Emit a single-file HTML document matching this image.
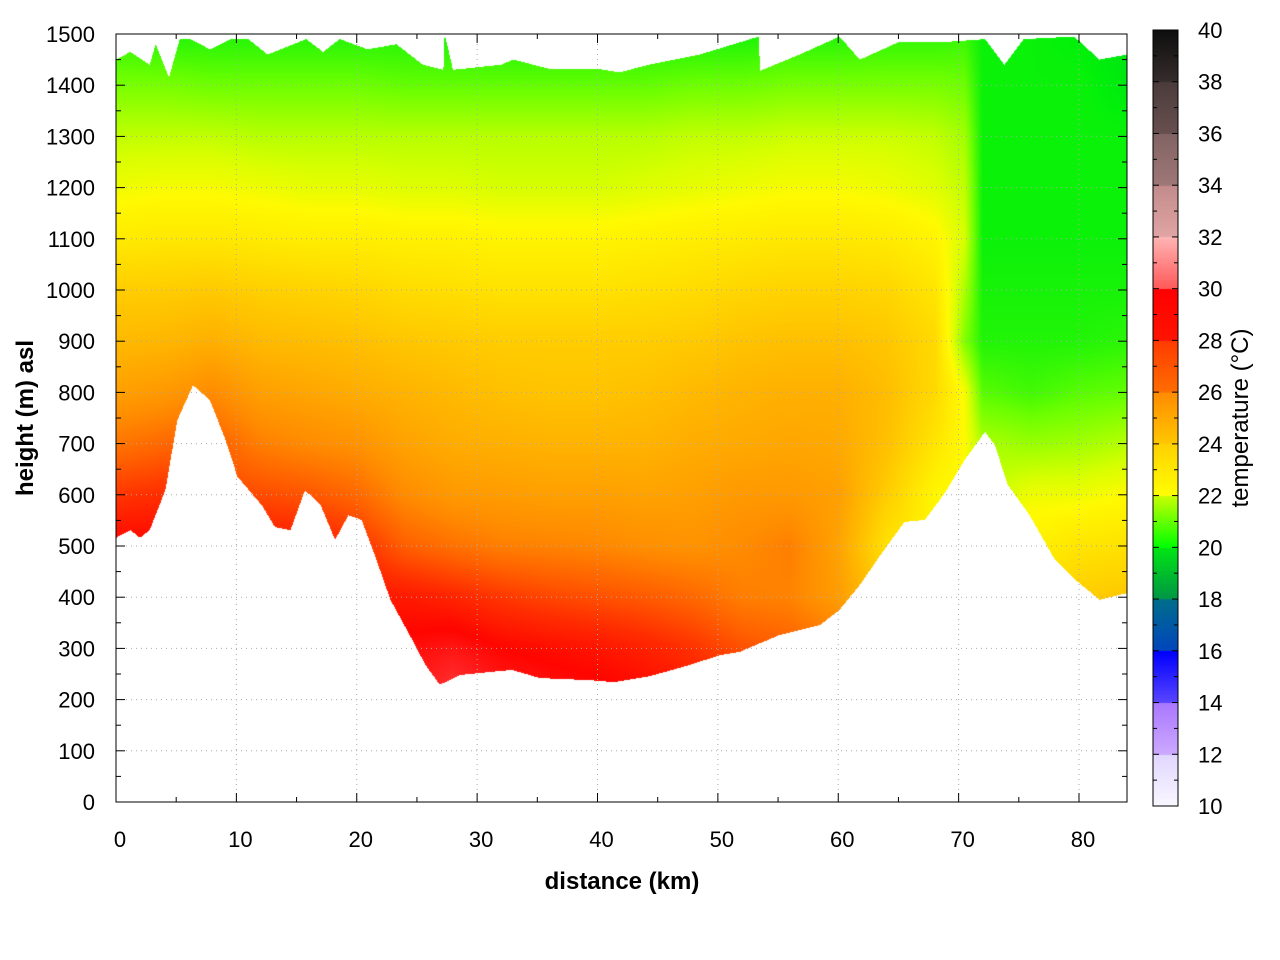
<!DOCTYPE html>
<html><head><meta charset="utf-8"><style>
body{margin:0;background:#fff;width:1280px;height:960px;overflow:hidden;font-family:"Liberation Sans",sans-serif}
#wrap{position:relative;width:1280px;height:960px}
canvas,svg{position:absolute;left:0;top:0}
</style></head><body><div id="wrap">
<canvas id="cv" width="1280" height="960"></canvas>
<svg id="sv" width="1280" height="960"></svg>
</div>
<script>
// ---- data ----
const distKm=[0,4,8,12,16,20,24,28,32,36,40,44,48,52,56,60,64,68,70.5,72,76,80,84];
const heightsM=[200,300,400,500,600,700,800,900,1000,1100,1200,1300,1400,1500];
// temperature columns (bottom 200m -> top 1500m) per distance
const temps=[
[29,29,29,29,27.8,26.5,25.4,24.6,24,23,22.3,21.8,21.1,20.4],
[29,29,29,29,28,26.8,25.6,24.7,24,23.1,22.4,21.8,21.1,20.3],
[28,28,28,28,27.5,27,26,24.9,24.1,23.1,22.4,21.8,21,20.3],
[28.5,28.5,28.5,28.5,27.4,26.3,25.4,24.6,23.9,23,22.3,21.7,21,20.3],
[28.5,28.5,28.5,28.5,27.2,26,25.2,24.5,23.8,22.9,22.2,21.7,21,20.3],
[28.5,28.5,28.5,28,26.8,25.8,25,24.4,23.7,22.9,22.2,21.7,21,20.3],
[29.5,29.2,28.5,27,26,25.3,24.8,24.2,23.5,22.8,22.1,21.7,20.9,20.3],
[30.5,29.5,28.2,26.6,25.6,25,24.6,24.1,23.4,22.8,22.1,21.7,20.9,20.2],
[29.8,29,27.8,26.3,25.5,24.9,24.4,24,23.3,22.7,22,21.7,20.9,20.2],
[29.5,28.8,27.5,26.2,25.4,24.8,24.3,24,23.3,22.7,22,21.7,20.9,20.2],
[29.3,28.6,27.3,26.1,25.4,24.8,24.3,24,23.3,22.7,22,21.7,20.9,20.2],
[29,28.3,27.1,25.9,25.3,24.8,24.4,24,23.4,22.8,22.1,21.7,20.9,20.2],
[28.7,27.9,26.8,25.8,25.4,25,24.6,24.1,23.5,22.9,22.2,21.8,21,20.2],
[28,27.3,26.3,26,25.6,25.1,24.8,24.3,23.7,23,22.3,21.8,21,20.2],
[27.5,27,26.2,26.3,25.6,25.2,24.9,24.4,23.8,23.1,22.4,21.9,21.1,20.3],
[27,26.5,25.5,25.3,25.4,25.1,24.9,24.4,23.8,23.1,22.4,21.9,21.1,20.3],
[24.5,24.2,24,23.3,24,24.4,24.5,24.2,23.7,23,22.3,21.9,21.1,20.4],
[23,23,23,22.7,22.6,23.2,23.6,23.6,23.2,22.7,22.1,21.8,21.1,20.4],
[22.6,22.6,22.6,22.5,22.4,22.5,22.4,21.2,21.6,22,21.8,21.5,21,20.5],
[22.5,22.3,22.2,22,21.8,21.6,20.8,20.3,20.2,20.1,20.1,20.1,20.1,20.1],
[24,23.6,23.3,22.8,22.3,21.4,20.6,20.3,20.2,20.1,20.1,20.1,20.1,20.1],
[24.3,24,24,23.2,22.3,21.5,20.8,20.3,20.2,20.1,20.1,20.1,20.1,20],
[24.5,24.3,24.2,23.3,22.5,21.7,20.9,20.4,20.2,20.1,20.1,20.1,19.9,19.8]];
// terrain profile (km, m)
const terrainKm=[0,1.2,2,2.8,4.1,5.1,6.4,7.8,9.1,10.1,12.1,13.2,14.5,15.7,17,18.2,19.3,20.4,21.5,22.8,24.4,25.7,26.9,28.6,30.2,32.9,35.2,39.4,41.4,44.4,47.7,50.2,51.8,55.1,58.5,60.1,61.8,63.5,65.5,67.2,68.9,70.5,72.2,73,74.1,75.9,78,79.7,81.7,84];
const terrainM=[516,531,516,531,609,746,814,785,707,635,580,537,531,609,580,512,560,551,482,395,326,268,229,248,252,258,242,238,234,246,268,287,293,326,346,375,424,482,547,551,605,668,723,697,619,560,473,434,395,408];
// top of data (km, m)
const topKm=[0,1.2,2.8,3.3,4.4,5.3,6.2,7.8,9.5,11,12.6,14.2,15.8,17.2,18.6,20.9,23.3,25.5,27.2,27.3,28,32,33,36,40,41.8,44.3,48.5,53.4,53.5,56.8,60.1,61.8,65.1,69.2,72.2,73.8,75.4,79.6,81.7,84];
const topM=[1450,1465,1440,1480,1415,1490,1490,1470,1490,1490,1460,1475,1490,1465,1490,1470,1480,1440,1430,1500,1430,1440,1450,1432,1432,1425,1440,1460,1495,1428,1460,1495,1450,1485,1485,1490,1440,1490,1495,1450,1460];
// colour bar scale (stepped palette)
const cTemps=[10,12,12.01,14,14.01,16,16.01,18,18.01,20,20.01,22,22.01,24,24.01,26,26.01,28,28.01,30,30.01,32,32.01,34,34.01,36,36.01,38,38.01,40];
const cRGB=[[250,248,255],[225,215,255],[205,170,255],[170,120,255],[90,70,255],[0,0,255],[0,70,190],[0,110,140],[0,150,70],[0,230,20],[0,255,0],[200,255,0],[255,255,0],[255,210,0],[255,200,0],[255,140,0],[255,110,0],[255,60,0],[255,20,0],[255,0,0],[255,90,90],[255,180,180],[225,165,165],[195,140,140],[160,120,120],[130,100,100],[105,80,80],[75,60,60],[55,45,45],[15,15,15]];
// smooth palette used in the field
const pTemps=[18,19,20,21,22,22.5,24,26,27,28,29,30,31,32];
const pRGB=[[0,110,140],[0,170,60],[0,240,10],[110,255,0],[215,255,0],[255,250,0],[255,205,0],[255,140,0],[255,95,0],[255,45,0],[255,5,0],[255,40,40],[255,110,110],[255,170,170]];
const cbTicks=[10,12,14,16,18,20,22,24,26,28,30,32,34,36,38,40];
const xTicks=[0,10,20,30,40,50,60,70,80];
const yTicks=[0,100,200,300,400,500,600,700,800,900,1000,1100,1200,1300,1400,1500];

// ---- scales ----
const X0=116,X1=1127,Y0=802,Y1=34;
const xs=k=>X0+k*(1079-116)/80;
const ys=m=>Y0-m*(Y0-Y1)/1500;
const xinv=p=>(p-X0)*80/(1079-116);
const yinv=p=>(Y0-p)*1500/(Y0-Y1);
function interp(xa,ya,x){if(x<=xa[0])return ya[0];for(let i=1;i<xa.length;i++){if(x<=xa[i]){const t=(x-xa[i-1])/(xa[i]-xa[i-1]);return ya[i-1]+t*(ya[i]-ya[i-1]);}}return ya[ya.length-1];}
function pal(T,C,t){t=Math.max(T[0],Math.min(T[T.length-1],t));for(let i=1;i<T.length;i++){if(t<=T[i]){const f=(t-T[i-1])/(T[i]-T[i-1]);const a=C[i-1],b=C[i];return [a[0]+f*(b[0]-a[0]),a[1]+f*(b[1]-a[1]),a[2]+f*(b[2]-a[2])];}}return C[C.length-1];}
const color=t=>pal(cTemps,cRGB,t);
const fieldColor=t=>pal(pTemps,pRGB,t);
function tempAt(k,m){let i=0;while(i<distKm.length-2&&k>distKm[i+1])i++;let fx=(k-distKm[i])/(distKm[i+1]-distKm[i]);fx=Math.max(0,Math.min(1,fx));
 const col=j=>interp(heightsM,temps[j],m);return col(i)*(1-fx)+col(i+1)*fx;}

// ---- heatmap ----
const ctx=document.getElementById('cv').getContext('2d');
const img=ctx.createImageData(X1-X0,Y0-Y1);
for(let px=X0;px<X1;px++){const k=xinv(px+0.5);const bot=interp(terrainKm,terrainM,k),top=interp(topKm,topM,k);
 for(let py=Y1;py<Y0;py++){const m=yinv(py+0.5);if(m<bot||m>top)continue;const c=fieldColor(tempAt(k,m));const o=((py-Y1)*(X1-X0)+(px-X0))*4;img.data[o]=c[0];img.data[o+1]=c[1];img.data[o+2]=c[2];img.data[o+3]=255;}}
ctx.putImageData(img,X0,Y1);
// colour bar
const CB0=1153,CB1=1178,CBT=30,CBB=806;
for(let py=CBT;py<CBB;py++){const t=40-(py-CBT)*30/(CBB-CBT);const c=color(t);ctx.fillStyle=`rgb(${c[0]|0},${c[1]|0},${c[2]|0})`;ctx.fillRect(CB0,py,CB1-CB0,1);}

// ---- axes ----
const sv=document.getElementById('sv');const NS='http://www.w3.org/2000/svg';
function el(tag,attrs,txt){const e=document.createElementNS(NS,tag);for(const a in attrs)e.setAttribute(a,attrs[a]);if(txt!==undefined)e.textContent=txt;sv.appendChild(e);return e;}
for(const v of xTicks){const x=xs(v);
 if(v>0){const g=el('line',{x1:x,x2:x,y1:Y1,y2:Y0,stroke:'#aaa','stroke-width':1,'stroke-dasharray':'1,4'});}
 const t=el('line',{x1:x,x2:x,y1:Y0,y2:Y0-9,stroke:'#000'});
 const t2=el('line',{x1:x,x2:x,y1:Y1,y2:Y1+9,stroke:'#000'});
 const l=el('text',{x:x+4,y:847,'font-size':22,'text-anchor':'middle'},String(v));}
for(const v of xTicks){const x=xs(v+5);if(x>=X1)continue;
 const t=el('line',{x1:x,x2:x,y1:Y0,y2:Y0-5,stroke:'#000'});
 const t2=el('line',{x1:x,x2:x,y1:Y1,y2:Y1+5,stroke:'#000'});}
for(const v of yTicks){const y=ys(v);
 if(v>0&&v<1500){const g=el('line',{x1:X0,x2:X1,y1:y,y2:y,stroke:'#aaa','stroke-width':1,'stroke-dasharray':'1,4'});}
 const t=el('line',{x1:X0,x2:X0+9,y1:y,y2:y,stroke:'#000'});
 const t2=el('line',{x1:X1,x2:X1-9,y1:y,y2:y,stroke:'#000'});
 const l=el('text',{x:95,y:y+8,'font-size':22,'text-anchor':'end'},String(v));
 if(v<1500){const ym=ys(v+50);const m1=el('line',{x1:X0,x2:X0+5,y1:ym,y2:ym,stroke:'#000'});
  const m2=el('line',{x1:X1,x2:X1-5,y1:ym,y2:ym,stroke:'#000'});}}
const fr=el('rect',{x:X0,y:Y1,width:X1-X0,height:Y0-Y1,fill:'none',stroke:'#000','stroke-width':1});
const xt=el('text',{x:622,y:889,'font-size':24,'font-weight':'bold','text-anchor':'middle'},'distance (km)');
const yt=el('text',{x:0,y:0,'font-size':24,'font-weight':'bold','text-anchor':'middle',transform:'translate(33,418) rotate(-90)'},'height (m) asl');
// colour bar frame + ticks
const cf=el('rect',{x:CB0,y:CBT,width:CB1-CB0,height:CBB-CBT,fill:'none',stroke:'#000','stroke-width':1});
for(const v of cbTicks){const y=CBB-(v-10)*(CBB-CBT)/30;
 const a=el('line',{x1:CB0,x2:CB0+6,y1:y,y2:y,stroke:'#000'});
 const b=el('line',{x1:CB1,x2:CB1-6,y1:y,y2:y,stroke:'#000'});
 const l=el('text',{x:1198,y:y+8,'font-size':22},String(v));}
for(const v of cbTicks){if(v>=40)continue;const y=CBB-(v+1-10)*(CBB-CBT)/30;
 const a=el('line',{x1:CB0,x2:CB0+4,y1:y,y2:y,stroke:'#000'});
 const b=el('line',{x1:CB1,x2:CB1-4,y1:y,y2:y,stroke:'#000'});}
const ct=el('text',{x:0,y:0,'font-size':24,'text-anchor':'middle',transform:'translate(1248,418) rotate(-90)'},'temperature (°C)');
</script></body></html>
